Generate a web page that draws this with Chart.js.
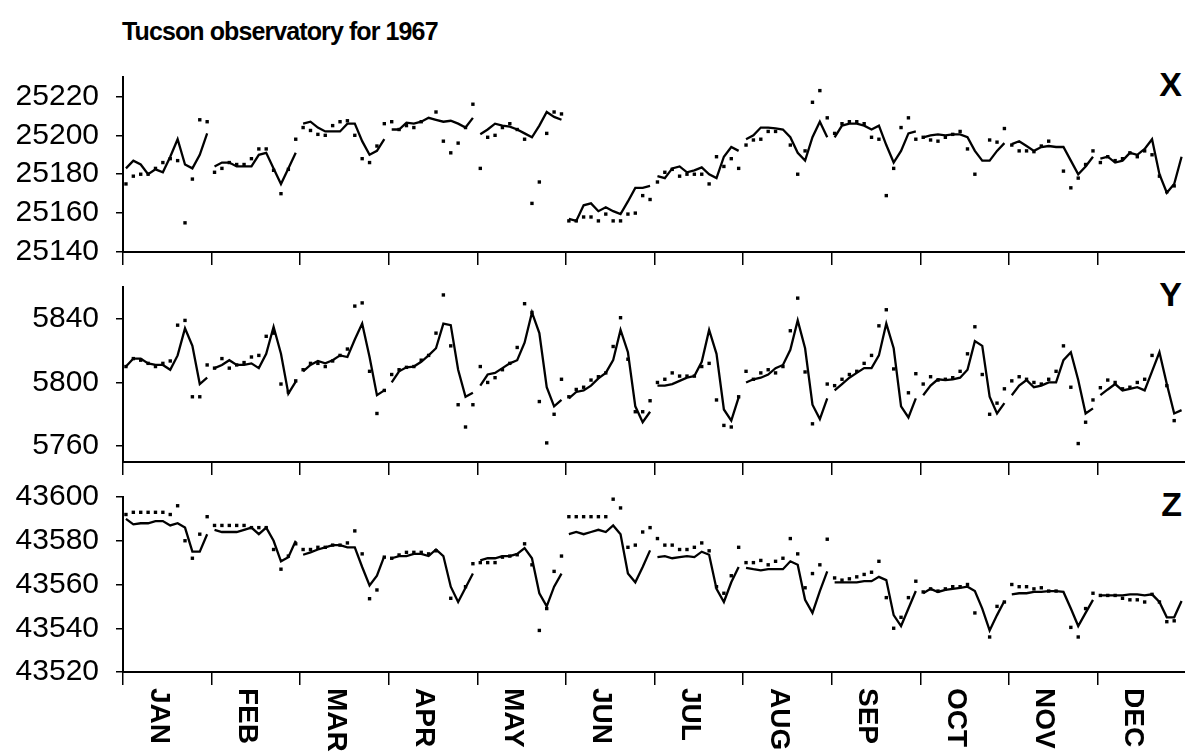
<!DOCTYPE html>
<html>
<head>
<meta charset="utf-8">
<script src="https://cdn.jsdelivr.net/npm/chart.js@4.4.0/dist/chart.umd.min.js"></script>
<style>
  body { margin: 0; width: 1185px; height: 754px; overflow: hidden; background: #fff; position: relative;
         font-family: "Liberation Sans", Arial, sans-serif; }
  #title { position: absolute; left: 122px; top: 17px; font-weight: bold; font-size: 25px; letter-spacing: -0.9px; }
  .tag { position: absolute; right: 3px; font-weight: bold; font-size: 34px; line-height: 34px; }
  canvas { position: absolute; left: 0; }
</style>
</head>
<body>
<div id="title">Tucson observatory for 1967</div>
<div class="tag" style="top:67px">X</div>
<div class="tag" style="top:277px">Y</div>
<div class="tag" style="top:487px">Z</div>
<canvas id="cX" width="1200" height="280" style="top:0"></canvas>
<canvas id="cY" width="1200" height="230" style="top:260px"></canvas>
<canvas id="cZ" width="1200" height="284" style="top:470px"></canvas>
<script>
const months = ['JAN','FEB','MAR','APR','MAY','JUN','JUL','AUG','SEP','OCT','NOV','DEC'];
// sample days inside each month (12 samples a month)
const sampleDays = [1, 3.5, 6, 8.5, 11, 13.5, 16, 18.5, 21, 23.5, 26, 28.5];

// X component: smoothed line and observed dots
const xLine = [
  25183, 25187, 25185, 25180, 25182.5, 25181, 25189, 25198, 25185, 25183, 25190, 25201,
  25184, 25186, 25186, 25184, 25184, 25184, 25190, 25191, 25183, 25175, 25183, 25191,
  25206, 25207, 25204, 25202, 25202, 25202, 25206, 25206, 25197, 25190, 25192, 25198,
  25203, 25203, 25206.5, 25206, 25207, 25209, 25208, 25207, 25207.5, 25206, 25204, 25209,
  25200.6, 25203, 25206, 25205, 25204.5, 25203, 25201, 25199, 25205, 25212, 25209.5, 25208,
  25157, 25156, 25164, 25165, 25161, 25163, 25161, 25159.5, 25166, 25173, 25173, 25174,
  25179, 25178, 25183, 25184, 25181, 25182, 25183.5, 25180, 25178, 25189, 25194, 25192,
  25198, 25200, 25204, 25204, 25203.6, 25203, 25199, 25191, 25187, 25199, 25207, 25199,
  25199, 25205, 25206, 25206, 25205, 25203, 25205, 25195, 25186, 25192, 25201, 25202,
  25199, 25200, 25200.5, 25200, 25200.5, 25200.5, 25199, 25192, 25187, 25187, 25192, 25196,
  25195.5, 25197, 25194.5, 25192, 25194, 25194.5, 25194, 25194, 25187, 25180, 25184, 25189,
  25188, 25189, 25186, 25187, 25191, 25190, 25193, 25198, 25180, 25170.5, 25175, 25189
];
const xDots = [
  25175, 25179, 25180, 25180, 25183, 25186, 25188, 25187, 25155, 25177.5, 25208, 25207,
  25181, 25183, 25186, 25185, 25185, 25188, 25193, 25193, 25182, 25170, 25182.5, 25198,
  25204, 25202.5, 25200.5, 25200, 25205, 25207, 25207.5, 25200, 25188, 25186, 25194.5, 25206,
  25207, 25203, 25205, 25204, 25207, null, 25212, 25197, 25191, 25196, 25204, 25216,
  25183, 25199, 25200, 25204, 25206, 25203, 25198, 25165, 25176, 25201, 25212, 25211,
  25156, 25156, 25158, 25158, 25156, 25159.5, 25156, 25156, 25159.5, 25160, 25169, 25167,
  25176, 25181, 25182.5, 25179, 25180, 25180, 25180, 25175, 25189, 25184, 25188, 25183,
  25195, 25197.6, 25198, 25202, 25202, null, 25195, 25180, 25192, 25217, 25223, 25209,
  25201, 25206, 25207, 25207, 25206, 25199, 25198, 25169, 25183, 25204, 25209, 25198,
  25199, 25197.6, 25197, 25199, 25200.5, 25202, 25193, 25180, null, 25197.6, 25196.5, 25203.5,
  25195, 25192, 25192, 25191.6, 25194.5, 25197, null, 25181.6, 25173, 25178, 25185, 25192,
  25186, 25189, 25187, 25188, 25191, 25189, 25192, 25190, 25179, 25171, 25174, null
];

// Y component
const yLine = [
  5810, 5815, 5815, 5812, 5811, 5811, 5808, 5817, 5834, 5823, 5799, 5803,
  5809, 5811, 5814, 5811, 5811, 5812, 5809, 5818, 5835, 5818, 5793, 5800.5,
  5807, 5811, 5813.5, 5812, 5814, 5817, 5816, 5827, 5837, 5816, 5792, 5795,
  5800, 5807, 5809.5, 5810, 5813, 5817, 5821.5, 5837, 5836, 5808, 5791, 5793.5,
  5798, 5805, 5806, 5809, 5812, 5814, 5825, 5844, 5831, 5797, 5785, 5789,
  5790, 5794, 5795, 5798, 5802.6, 5806, 5814, 5833, 5819, 5785, 5775, 5781.6,
  5798, 5798, 5799, 5801, 5803, 5804, 5813, 5833, 5818, 5783, 5776, 5790.6,
  5800, 5802, 5803, 5805, 5809, 5811, 5820.5, 5839, 5821.5, 5786, 5777, 5790,
  5795, 5799, 5803, 5806, 5809, 5809, 5817, 5837, 5821.5, 5785, 5778, 5790,
  5792, 5798, 5802, 5801.5, 5802, 5803, 5808, 5826, 5823, 5791, 5780.5, 5787,
  5792, 5798, 5801.5, 5797, 5798, 5800, 5800, 5814, 5819, 5801.5, 5780.5, 5783.7,
  5792, 5795.6, 5799, 5795, 5796, 5797, 5795, 5807, 5819, 5799, 5780.5, 5782.6
];
const yDots = [
  5810, 5815, 5814, 5812, 5810, 5812, 5813.5, 5836, 5839, 5791, 5791, 5811,
  5809, 5815, 5809, 5811, 5812.5, 5816, 5817, 5829, 5831, 5799, 5794, 5801,
  5808, 5812, 5812, 5810, 5813.5, 5817, 5821, 5848, 5850, 5807, 5780.5, 5795,
  5805, 5808, 5809.5, 5810, 5814, 5817, 5831, 5855, 5823, 5786, 5772, 5786,
  5810, 5800, 5803, 5808, 5812, 5822, 5849.5, 5844, 5788, 5762, 5780, 5802,
  5791, 5795.6, 5797, 5801.5, 5803.6, 5806, 5822.6, 5840.7, 5814.6, 5781.6, 5781.6, 5788.5,
  5800, 5802, 5806, 5804, 5804, 5804, 5810, 5812, 5789, 5773, 5772, 5791,
  5807, 5802, 5806, 5808, 5806, 5810, 5832.5, 5853, 5806.6, 5774, null, 5799,
  5798, 5802, 5805, 5807, 5812, 5817, 5835.6, 5845.7, 5808.5, null, 5793.5, 5805.5,
  5799, 5803.6, 5801.5, 5802, 5803, 5807, 5818, 5835, 5805, 5780, 5787, 5796,
  5801, 5803.6, 5802, 5800, 5799, 5802, 5807, 5823, 5797, 5761.6, 5775, 5789,
  5796.7, 5801.5, 5800, 5796, 5797, 5800, 5802, 5817, null, 5798, 5776, null
];

// Z component
const zLine = [
  43590, 43587.5, 43588, 43588, 43589, 43589, 43587, 43588, 43586, 43575, 43575, 43583,
  43585, 43584, 43584, 43584, 43585, 43586, 43583, 43586, 43580, 43570.6, 43572.5, 43580,
  43573.6, 43574.7, 43576, 43577, 43578, 43578, 43577, 43577, 43568, 43559.6, 43564, 43573,
  43572, 43573, 43573, 43574, 43574, 43573, 43576, 43573, 43559, 43552, 43558.5, 43565,
  43571, 43572, 43572, 43573, 43573, 43574, 43576.6, 43572, 43556, 43550, 43559, 43565,
  43583, 43584, 43583, 43584, 43585, 43584, 43587, 43583, 43565, 43561, 43568, 43575.6,
  43572.5, 43573, 43572, 43572.5, 43573, 43572.5, 43575, 43573.6, 43558, 43552, 43561, 43568,
  43567.6, 43567, 43566.5, 43567, 43567, 43567, 43570.6, 43569, 43553, 43547, 43557, 43566,
  43561, 43561, 43561, 43561, 43561.5, 43561.5, 43563.5, 43562, 43546, 43541, 43549, 43557,
  43556, 43558, 43556.6, 43557.5, 43558, 43558.5, 43559, 43557, 43549, 43539, 43546, 43552.5,
  43555.5, 43556, 43556, 43556.6, 43556.6, 43557, 43557, 43556.6, 43549, 43541, 43547, 43553,
  43555, 43555, 43555, 43555, 43555.5, 43555.5, 43555, 43555.5, 43552, 43545, 43545, 43552.5
];
const zDots = [
  43592, 43593, 43593, 43593, 43593, 43593, 43592, 43596, 43580, 43572, 43583, 43591,
  43587, 43587, 43587, 43587, 43587, 43586, 43586, 43586, 43576, 43567, 43573, 43578.6,
  43576, 43576, 43577, 43577, 43578, 43578, 43579, 43584.5, 43574, 43553.5, 43557.5, 43572.5,
  43572, 43573.5, 43574.7, 43574.7, 43574.7, 43574, 43575.4, null, 43553.7, null, 43559, 43569.5,
  43570, 43570, 43570, 43572.5, 43573, 43573.6, 43578.6, 43569, 43539, 43549, 43566, 43573,
  43591, 43591, 43591, 43591, 43591, 43591, 43599, 43595, 43577, 43578, 43584, 43586,
  43581, 43578, 43578, 43576, 43576, 43577, 43579, 43575.4, 43559, 43556, 43564, 43577,
  43570, 43570, 43571, 43569, 43570.6, 43572, 43581, 43574, 43558.5, 43565, 43569, 43580.7,
  43563, 43562, 43562.6, 43563.5, 43564.6, 43565.6, 43570.6, 43554, 43540, 43545, 43554, 43561.5,
  43556.6, 43558, 43557, 43558, 43559, 43559, 43560, 43547, null, 43536, 43550, 43552,
  43560, 43559, 43559, 43558, 43558.5, 43557, 43557, null, 43540.4, 43536, 43549, 43556,
  43555, 43555, 43555, 43553.7, 43553, 43553, 43552, 43555.5, 43552, 43543, 43543.4, null
];

const FONT = '"Liberation Sans", Arial, sans-serif';

// turn a 144-long array into {x,y} points, breaking the line between months
function toPoints(vals, breakMonths) {
  const pts = [];
  vals.forEach((v, k) => {
    const m = Math.floor(k / 12), i = k % 12;
    pts.push({x: m + sampleDays[i] / 30, y: v});
    if (breakMonths && i === 11) pts.push({x: m + 1, y: null});
  });
  return pts;
}

const monthLabels = {
  id: 'monthLabels',
  afterDraw(chart) {
    if (!chart.options.plugins.monthLabels.show) return;
    const xs = chart.scales.x, ctx = chart.ctx;
    ctx.save();
    ctx.font = 'bold 28px ' + FONT;
    ctx.fillStyle = '#000';
    ctx.textAlign = 'left';
    ctx.textBaseline = 'middle';
    months.forEach((m, i) => {
      ctx.save();
      ctx.translate(xs.getPixelForValue(i + 0.5) - 9, xs.top + 16);
      ctx.rotate(Math.PI / 2);
      ctx.fillText(m, 0, 0);
      ctx.restore();
    });
    ctx.restore();
  }
};

function makePanel(id, line, dots, min, max, step, labelOk, topPad, bottomH, showMonths) {
  return new Chart(document.getElementById(id), {
    type: 'scatter',
    data: {
      datasets: [
        {data: toPoints(line, true), showLine: true, borderColor: '#000', borderWidth: 2.3,
         pointRadius: 0, spanGaps: false, tension: 0},
        {data: toPoints(dots, false), showLine: false, pointStyle: 'rect', pointRadius: 2.4,
         backgroundColor: '#000', borderWidth: 0}
      ]
    },
    options: {
      responsive: false,
      animation: false,
      layout: {padding: {top: topPad, right: 14, left: 0, bottom: 0}},
      plugins: {legend: {display: false}, tooltip: {enabled: false}, monthLabels: {show: showMonths}},
      scales: {
        x: {
          type: 'linear', min: 0, max: 12,
          ticks: {stepSize: 1, display: false},
          grid: {drawOnChartArea: false, drawTicks: true, tickLength: 13, color: '#000', lineWidth: 1.5},
          border: {color: '#000', width: 2},
          afterFit: s => { s.height = bottomH; s.paddingLeft = 0; s.paddingRight = 0; }
        },
        y: {
          min: min, max: max,
          ticks: {stepSize: step, includeBounds: false, color: '#000', padding: 17,
                  font: {family: FONT, size: 30},
                  callback: v => labelOk(v) ? String(v) : ''},
          grid: {drawOnChartArea: false, drawTicks: true, tickLength: 7, color: '#000', lineWidth: 1.5},
          border: {color: '#000', width: 2},
          // fixed axis width, and no extra room asked for the end labels
          afterFit: s => { s.width = 123; s.paddingTop = 0; s.paddingBottom = 0; }
        }
      }
    },
    plugins: [monthLabels]
  });
}

makePanel('cX', xLine, xDots, 25140, 25230, 10, v => (v - 25140) % 20 === 0, 77, 28, false);
makePanel('cY', yLine, yDots, 5750, 5860, 20, v => (v - 5760) % 40 === 0, 27, 28, false);
makePanel('cZ', zLine, zDots, 43520, 43600, 10, v => v % 20 === 0, 27, 82, true);
</script>
</body>
</html>
